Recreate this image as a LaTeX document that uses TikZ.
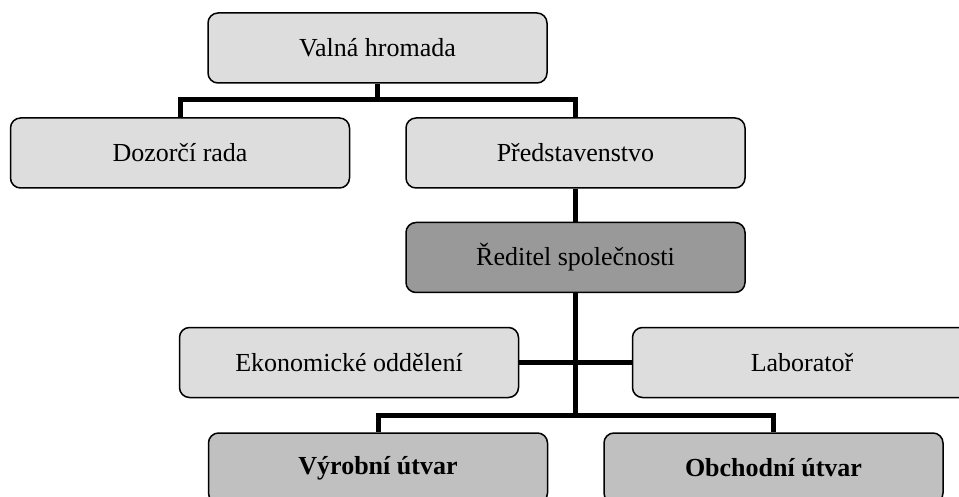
\documentclass[tikz,border=0pt]{standalone}
\usepackage{fontspec}
\setmainfont{Liberation Serif}
\usepackage{xcolor}
\usetikzlibrary{calc}
\definecolor{boxlight}{HTML}{DDDDDD}
\definecolor{boxdark}{HTML}{999999}
\definecolor{boxmid}{HTML}{C0C0C0}
\definecolor{edge}{HTML}{000000}
\tikzset{
  unit/.style={draw=edge, line width=1.5pt, rounded corners=10pt, minimum width=339pt,
    minimum height=70pt, inner sep=0pt, font=\fontsize{26}{30}\selectfont},
  lightbox/.style={unit, fill=boxlight},
  headbox/.style={unit, fill=boxdark},
  deptbox/.style={unit, fill=boxmid, font=\fontsize{26}{30}\selectfont\bfseries},
  conn/.style={draw=edge, line width=5pt, line join=miter},
}
\begin{document}
\begin{tikzpicture}[x=1pt, y=-1pt]
  \useasboundingbox (0,0) rectangle (959,497);
  % boxes
  \node[lightbox] (valna) at (377.5,48) {Valná hromada};
  \node[lightbox] (dozorci) at (180,153) {Dozorčí rada};
  \node[lightbox] (predst) at (575.5,153) {Představenstvo};
  \node[headbox] (reditel) at (575.5,257.5) {Ředitel společnosti};
  \node[lightbox] (ekon) at (349,362.5) {Ekonomické oddělení};
  \node[lightbox] (lab) at (802,362.5) {Laboratoř};
  \node[deptbox] (vyroba) at (378,468) {Výrobní útvar};
  \node[deptbox] (obchod) at (773.5,468) {Obchodní útvar};
  % connectors
  \coordinate (topbar) at (377.5,100);
  \coordinate (lowbar) at (575.5,415);
  \draw[conn] (valna.south) -- (topbar);
  \draw[conn] (dozorci.north) -- (dozorci.north |- topbar) -- (predst.north |- topbar) -- (predst.north);
  \draw[conn] (predst.south) -- (reditel.north);
  \draw[conn] (reditel.south) -- (lowbar);
  \draw[conn] (ekon.east) -- (lab.west);
  \draw[conn] (vyroba.north) -- (vyroba.north |- lowbar) -- (obchod.north |- lowbar) -- (obchod.north);
\end{tikzpicture}
\end{document}
